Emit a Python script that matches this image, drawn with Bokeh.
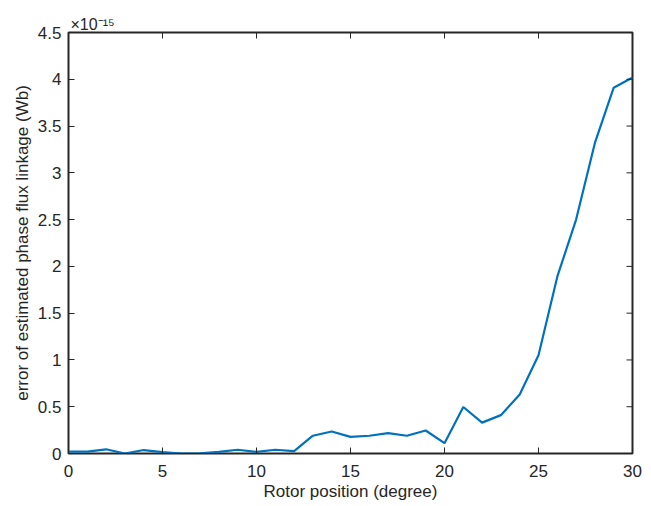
from bokeh.plotting import figure
from bokeh.models import FixedTicker, CustomJSTickFormatter, Range1d, Title
from bokeh.embed import file_html
from bokeh.resources import INLINE

# Data
rotor_position = list(range(0, 31))
flux_error_e15 = [0.02, 0.02, 0.045, 0.0, 0.037, 0.015, 0.0, 0.002, 0.017, 0.04,
                  0.017, 0.04, 0.025, 0.19, 0.235, 0.178, 0.19, 0.217, 0.19, 0.246,
                  0.11, 0.497, 0.33, 0.41, 0.63, 1.05, 1.89, 2.50, 3.32, 3.91, 4.02]
flux_error = [v * 1e-15 for v in flux_error_e15]
x_ticks = [0, 5, 10, 15, 20, 25, 30]
y_ticks_e15 = [0, 0.5, 1, 1.5, 2, 2.5, 3, 3.5, 4, 4.5]
y_ticks = [t * 1e-15 for t in y_ticks_e15]
exponent_label = "×10⁻¹⁵"

TEXT = "#262626"
FONT = "Liberation Sans"

p = figure(width=651, height=506, output_backend="svg", toolbar_location=None,
           x_range=Range1d(x_ticks[0], x_ticks[-1]),
           y_range=Range1d(y_ticks[0], y_ticks[-1] * 1.0000001),
           min_border_left=68, min_border_right=19, min_border_top=32, min_border_bottom=53)
p.grid.visible = False
p.outline_line_color = TEXT
p.outline_line_width = 2
p.background_fill_color = "white"
p.border_fill_color = "white"

p.line(rotor_position, flux_error, line_color="#0072BD", line_width=2.2)

# inward ticks on the top and right edges of the box
p.ray(x=x_ticks, y=[y_ticks[-1]] * len(x_ticks), length=6, length_units="screen",
      angle=-90, angle_units="deg", line_color=TEXT, line_width=1)
p.ray(x=[x_ticks[-1]] * len(y_ticks), y=y_ticks, length=6, length_units="screen",
      angle=180, angle_units="deg", line_color=TEXT, line_width=1)

fmt = CustomJSTickFormatter(code="return String(Number((tick*1e15).toFixed(2)));")

for ax in (p.xaxis[0], p.yaxis[0]):
    ax.axis_line_color = TEXT
    ax.axis_line_width = 1
    ax.major_tick_line_color = TEXT
    ax.major_tick_in = 6
    ax.major_tick_out = 0
    ax.minor_tick_line_color = None
    ax.major_label_text_font = FONT
    ax.major_label_text_color = TEXT
    ax.major_label_text_font_size = "17px"
    ax.axis_label_text_font = FONT
    ax.axis_label_text_font_size = "17px"
    ax.axis_label_text_font_style = "normal"
    ax.axis_label_text_color = TEXT

p.xaxis.ticker = FixedTicker(ticks=x_ticks)
p.yaxis.ticker = FixedTicker(ticks=y_ticks)
p.yaxis.formatter = fmt
p.xaxis.axis_label = "Rotor position (degree)"
p.yaxis.axis_label = "error of estimated phase flux linkage (Wb)"
p.xaxis.major_label_standoff = 11
p.xaxis.axis_label_standoff = 2
p.yaxis.major_label_standoff = 7
p.yaxis.axis_label_standoff = 3

p.add_layout(Title(text=exponent_label, align="left", offset=2, standoff=0,
                   text_font=FONT, text_font_size="16px", text_font_style="normal",
                   text_color=TEXT), "above")

open("out.html", "w").write(file_html(p, INLINE))
